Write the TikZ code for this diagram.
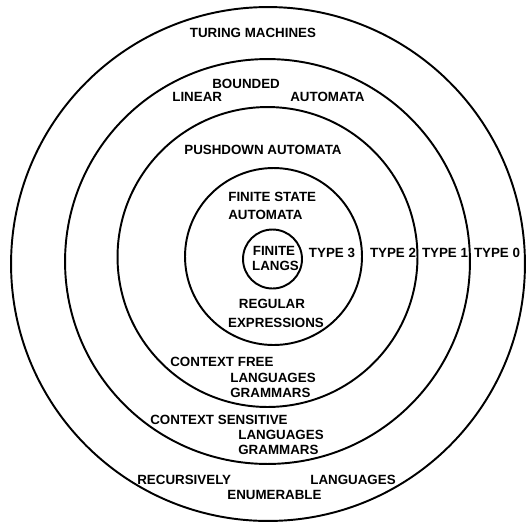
\documentclass[tikz,border=0pt]{standalone}
\usepackage{fontspec}
\setmainfont{Liberation Sans}
\usepackage{tikz}
\usetikzlibrary{positioning}

\begin{document}
\begin{tikzpicture} [
		x=0.02cm, y=-0.02cm,
		ring/.style    = { draw=black, line width=1.1pt },
		lbl/.style     = { font=\bfseries\fontsize{7.6}{9}\selectfont,
			inner sep=0pt, text=black },
		lblw/.style    = { lbl, anchor=west },
		]
		\useasboundingbox (0,0) rectangle (527,525);
		% centres of the rings
		\coordinate (c0) at (268,264);
		\coordinate (c1) at (267.5,261.5);
		\coordinate (c2) at (267.5,257);
		\coordinate (c3) at (273.5,256.5);
		\coordinate (c4) at (272.5,259);
		% the rings, outside in
		\draw[ring] (c0) circle [radius=5.14cm];
		\draw[ring] (c1) circle [radius=4.05cm];
		\draw[ring] (c2) circle [radius=3.0cm];
		\draw[ring] (c3) circle [radius=1.77cm];
		\draw[ring] (c4) circle [radius=0.59cm];
		% machines, upper half
		\node [lbl] (tm) at (253,33) {TURING MACHINES};
		\node [lblw] (lin) at (172,97) {LINEAR};
		\node [lblw] (bnd) at (212,84) {BOUNDED};
		\node [lblw] (lba) at (290,97) {AUTOMATA};
		\node [lbl] (pda) at (263,150) {PUSHDOWN AUTOMATA};
		\node [lblw] (fsa) at (228,197) {FINITE STATE};
		\node [lblw, below=10.2pt of fsa.west, anchor=west] (fsa2) {AUTOMATA};
		% innermost ring
		\node [lbl] (fin) at (274,251) {FINITE};
		\node [lbl] (fin2) at (275.5,266) {LANGS};
		% types along the right
		\node [lbl] (t3) at (332,253) {TYPE 3};
		\node [lbl] (t2) at (393,253) {TYPE 2};
		\node [lbl] (t1) at (445,253) {TYPE 1};
		\node [lbl] (t0) at (497,253) {TYPE 0};
		% languages, lower half
		\node [lbl] (reg) at (272,304) {REGULAR};
		\node [lbl] (reg2) at (276,323) {EXPRESSIONS};
		\node [lblw] (cfl) at (170,362) {CONTEXT FREE};
		\node [lblw] (cfl2) at (230,378) {LANGUAGES};
		\node [lblw, below=8.5pt of cfl2.west, anchor=west] (cfl3) {GRAMMARS};
		\node [lblw] (csl) at (150,420) {CONTEXT SENSITIVE};
		\node [lblw] (csl2) at (238,435) {LANGUAGES};
		\node [lblw, below=8.5pt of csl2.west, anchor=west] (csl3) {GRAMMARS};
		\node [lblw] (rec) at (137,480) {RECURSIVELY};
		\node [lblw] (rec2) at (310,480) {LANGUAGES};
		\node [lblw] (enu) at (227,495) {ENUMERABLE};
\end{tikzpicture}
\end{document}
